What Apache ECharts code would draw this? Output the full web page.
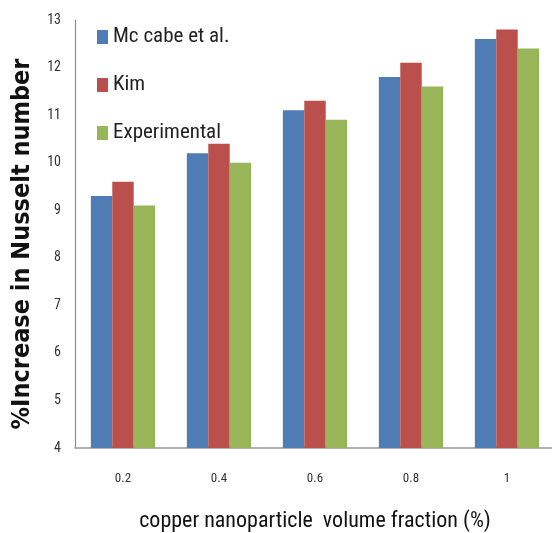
<!DOCTYPE html>
<html>
<head>
<meta charset="utf-8">
<script src="https://cdn.jsdelivr.net/npm/echarts@6/dist/echarts.min.js"></script>
<style>
  html, body { margin: 0; padding: 0; background: #fff; }
  #chart { width: 552px; height: 533px; }
</style>
</head>
<body>
<div id="chart"></div>
<script>
// Volume fractions on the x axis
const categories = ['0.2', '0.4', '0.6', '0.8', '1'];

// % increase in Nusselt number for each correlation / measurement
const mcCabe = [9.3, 10.2, 11.1, 11.8, 12.6];
const kim = [9.6, 10.4, 11.3, 12.1, 12.8];
const experimental = [9.1, 10.0, 10.9, 11.6, 12.4];

const seriesNames = ['Mc cabe et al.', 'Kim', 'Experimental'];
const seriesColors = ['#4f7cb5', '#bb4f4c', '#98b55a'];

const narrow = '"Roboto Condensed", "DejaVu Sans Condensed", sans-serif';
const boldCond = '"DejaVu Sans Condensed", "Open Sans", sans-serif';

const chart = echarts.init(document.getElementById('chart'), null, { renderer: 'canvas' });

chart.setOption({
  animation: false,
  backgroundColor: '#ffffff',
  grid: {
    left: 75, right: -3, top: 20, bottom: 85,
    containLabel: false,
    outerBoundsMode: 'none'
  },
  legend: {
    orient: 'vertical',
    left: 97,
    top: 26,
    padding: 0,
    itemWidth: 11,
    itemHeight: 14,
    itemGap: 26,
    icon: 'rect',
    textStyle: { fontFamily: narrow, fontSize: 21, color: '#222', lineHeight: 22 },
    data: seriesNames
  },
  xAxis: {
    type: 'category',
    data: categories,
    axisLine: { lineStyle: { color: '#9a9a9a', width: 1.5 } },
    axisTick: { show: false },
    axisLabel: { fontFamily: narrow, fontSize: 13, color: '#333', margin: 24 },
    name: 'copper nanoparticle  volume fraction (%)',
    nameLocation: 'middle',
    nameGap: 62,
    nameTextStyle: { fontFamily: narrow, fontSize: 22, color: '#111' }
  },
  yAxis: {
    type: 'value',
    min: 4,
    max: 13,
    interval: 1,
    splitLine: { show: false },
    axisLine: { show: true, lineStyle: { color: '#8c8c8c', width: 1.2 } },
    axisTick: { show: false },
    axisLabel: { fontFamily: narrow, fontSize: 14, color: '#333', margin: 14 },
    name: '%Increase in Nusselt number',
    nameLocation: 'middle',
    nameGap: 40,
    nameTextStyle: { fontFamily: boldCond, fontSize: 25, fontWeight: 'bold', color: '#111', padding: [0, 20, 0, 0] }
  },
  series: [
    { name: seriesNames[0], type: 'bar', data: mcCabe, itemStyle: { color: seriesColors[0] }, barGap: '0%', barCategoryGap: '33%' },
    { name: seriesNames[1], type: 'bar', data: kim, itemStyle: { color: seriesColors[1] }, barGap: '0%', barCategoryGap: '33%' },
    { name: seriesNames[2], type: 'bar', data: experimental, itemStyle: { color: seriesColors[2] }, barGap: '0%', barCategoryGap: '33%' }
  ]
});
</script>
</body>
</html>
